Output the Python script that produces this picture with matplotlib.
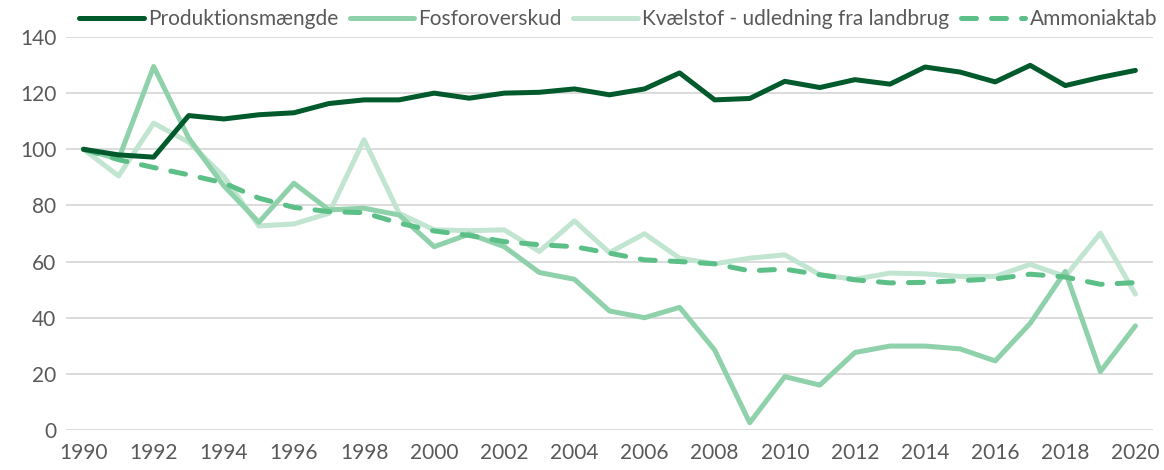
import matplotlib

matplotlib.use('Agg')
import matplotlib.pyplot as plt

# Data (index, 1990 = 100)
years = list(range(1990, 2021))

produktion = [100, 98, 97.2, 112, 110.8, 112.3, 113, 116.3, 117.6, 117.6, 120,
              118.2, 120, 120.3, 121.5, 119.4, 121.5, 127.2, 117.6, 118.1, 124.2,
              122, 124.8, 123.2, 129.3, 127.5, 124, 129.9, 122.7, 125.6, 128.1]
fosfor = [100, 96.5, 129.5, 104, 87, 74, 87.9, 78.4, 79, 76.6, 65.3,
          69.8, 65.3, 56.1, 53.7, 42.4, 40, 43.7, 28.5, 2.6, 19,
          16, 27.6, 29.9, 29.9, 28.9, 24.6, 38, 56.5, 20.8, 37.1]
kvaelstof = [100, 90.5, 109.3, 102.5, 90.3, 72.7, 73.4, 77.2, 103.4, 77.2, 71.3,
             71, 71.3, 63.6, 74.5, 63.2, 69.9, 61.2, 59.2, 61.2, 62.4,
             55.3, 53.7, 55.9, 55.6, 54.7, 54.7, 59, 54.7, 70.1, 48.4]
ammoniak = [100, 96.3, 93.5, 90.9, 88, 82.6, 79.3, 77.8, 77.4, 73.7, 70.9,
            69.3, 67.1, 66, 65.3, 63, 60.6, 60, 59.2, 56.7, 57.3,
            55.3, 53.5, 52.4, 52.6, 53.2, 53.8, 55.5, 54.5, 51.9, 52.5]

labels = ["Produktionsmængde", "Fosforoverskud",
          "Kvælstof - udledning fra landbrug", "Ammoniaktab"]
colors = ["#005a2b", "#8ed1aa", "#c1e5d1", "#5cbf87"]
x_ticks = list(range(1990, 2021, 2))
y_ticks = list(range(0, 141, 20))

plt.rcParams["font.family"] = ["Lato", "DejaVu Sans"]
text_color = "#595959"

fig = plt.figure(figsize=(11.64, 4.70), dpi=100)
ax = fig.add_axes([0.0567, 0.0851, 0.9338, 0.8362])

lw = 3.6
ax.plot(years, produktion, color=colors[0], linewidth=lw, label=labels[0],
        solid_capstyle="round", zorder=5)
ax.plot(years, fosfor, color=colors[1], linewidth=lw, label=labels[1],
        solid_capstyle="round", zorder=3)
ax.plot(years, kvaelstof, color=colors[2], linewidth=lw, label=labels[2],
        solid_capstyle="round", zorder=2)
ax.plot(years, ammoniak, color=colors[3], linewidth=lw, label=labels[3],
        dashes=(3.0, 3.0), dash_capstyle="round", zorder=4)

ax.set_xlim(1989.5, 2020.5)
ax.set_ylim(0, 140)
ax.set_xticks(x_ticks)
ax.set_yticks(y_ticks)
ax.tick_params(axis="both", length=0, labelsize=15, colors=text_color)
ax.tick_params(axis="x", pad=9)
ax.tick_params(axis="y", pad=7)
ax.grid(axis="y", color="#d9d9d9", linewidth=1.3)
ax.set_axisbelow(True)
for side in ["top", "right", "left", "bottom"]:
    ax.spines[side].set_visible(False)

fig.legend(loc="upper left", bbox_to_anchor=(0.052, 1.02), ncol=4, frameon=False,
           fontsize=15, labelcolor=text_color, handlelength=3.1,
           handletextpad=0.2, columnspacing=0.55)

plt.savefig("out.png", dpi=100)
plt.close(fig)
